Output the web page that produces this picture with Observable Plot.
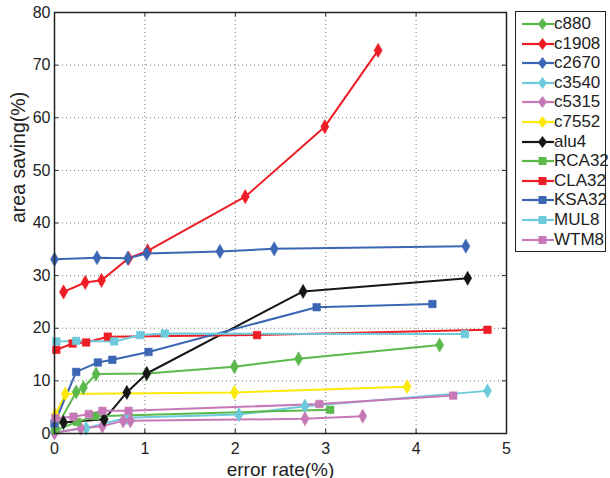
<!DOCTYPE html>
<html>
<head>
<meta charset="utf-8">
<script src="https://cdn.jsdelivr.net/npm/d3@7"></script>
<script src="https://cdn.jsdelivr.net/npm/@observablehq/plot@0.6"></script>
<style>
  body { margin: 0; background: #fff; font-family: "Liberation Sans", Arial, sans-serif; }
  #wrap { position: relative; width: 610px; height: 478px; }
  #legend { position: absolute; left: 515px; top: 11px; width: 91px; height: 241px; border: 1px solid #222; background: #fff; box-sizing: border-box; }
  .row { position: absolute; left: 0; height: 20px; width: 90px; }
  .row svg { position: absolute; left: 4px; top: 0; }
  .row span { position: absolute; left: 38px; top: 0px; font-size: 17px; line-height: 20px; color: #222; }
</style>
</head>
<body>
<div id="wrap"></div>
<script>
const seriesNames = ["c880","c1908","c2670","c3540","c5315","c7552","alu4","RCA32","CLA32","KSA32","MUL8","WTM8"];
const seriesColors = ["#5bb84b","#ee1d25","#3b66b4","#6ccadb","#c679b6","#fbe907","#161616","#5bb84b","#ee1d25","#3b66b4","#6ccadb","#c679b6"];
const seriesSymbols = ["diamond","diamond","diamond","diamond","diamond","diamond","diamond","square","square","square","square","square"];

const c880X = [0, 0.24, 0.32, 0.46, 1.02, 1.99, 2.70, 4.26];
const c880Y = [0.5, 7.9, 8.7, 11.3, 11.4, 12.7, 14.2, 16.8];
const c1908X = [0.10, 0.34, 0.52, 0.82, 1.03, 2.11, 2.99, 3.58];
const c1908Y = [26.9, 28.7, 29.1, 33.3, 34.7, 45.0, 58.3, 72.8];
const c2670X = [0, 0.47, 0.81, 1.02, 1.83, 2.43, 4.55];
const c2670Y = [33.1, 33.4, 33.3, 34.2, 34.6, 35.1, 35.6];
const c3540X = [0, 0.35, 0.80, 2.04, 2.77, 4.79];
const c3540Y = [0.3, 1.0, 3.0, 3.6, 5.2, 8.1];
const c5315X = [0, 0.29, 0.53, 0.76, 0.84, 2.77, 3.41];
const c5315Y = [0.1, 1.0, 1.4, 2.4, 2.4, 2.8, 3.3];
const c7552X = [0.01, 0.12, 1.99, 3.90];
const c7552Y = [3.5, 7.5, 7.8, 8.9];
const alu4X = [0.10, 0.55, 0.80, 1.02, 2.75, 4.57];
const alu4Y = [2.1, 2.7, 7.8, 11.4, 27.0, 29.5];
const RCA32X = [0.01, 0.25, 0.45, 3.05];
const RCA32Y = [0.6, 2.2, 3.3, 4.5];
const CLA32X = [0.02, 0.20, 0.35, 0.59, 2.24, 4.79];
const CLA32Y = [15.9, 17.1, 17.3, 18.4, 18.7, 19.7];
const KSA32X = [0, 0.24, 0.48, 0.64, 1.04, 2.90, 4.18];
const KSA32Y = [1.9, 11.7, 13.5, 14.0, 15.5, 24.0, 24.6];
const MUL8X = [0.02, 0.24, 0.66, 0.95, 1.22, 4.54];
const MUL8Y = [17.5, 17.6, 17.5, 18.7, 19.0, 18.9];
const WTM8X = [0.01, 0.21, 0.38, 0.53, 0.82, 2.93, 4.41];
const WTM8Y = [2.9, 3.2, 3.7, 4.3, 4.3, 5.6, 7.2];

const xTicks = [0, 1, 2, 3, 4, 5];
const yTicks = [0, 10, 20, 30, 40, 50, 60, 70, 80];

const seriesXs = [c880X, c1908X, c2670X, c3540X, c5315X, c7552X, alu4X, RCA32X, CLA32X, KSA32X, MUL8X, WTM8X];
const seriesYs = [c880Y, c1908Y, c2670Y, c3540Y, c5315Y, c7552Y, alu4Y, RCA32Y, CLA32Y, KSA32Y, MUL8Y, WTM8Y];

const data = [];
seriesNames.forEach((name, i) => {
  seriesXs[i].forEach((x, j) => data.push({series: name, x, y: seriesYs[i][j], order: i}));
});

const chart = Plot.plot({
  width: 610,
  height: 478,
  marginLeft: 54,
  marginRight: 104,
  marginTop: 12,
  marginBottom: 45,
  style: {fontFamily: "Liberation Sans, Arial, sans-serif", fontSize: "16px", color: "#222", background: "#fff"},
  x: {domain: [0, 5], ticks: xTicks, label: null},
  y: {domain: [0, 80], ticks: yTicks, label: null},
  color: {domain: seriesNames, range: seriesColors},
  symbol: {domain: seriesNames, range: seriesSymbols},
  marks: [
    Plot.gridX(xTicks, {stroke: "#777", strokeOpacity: 1, strokeDasharray: "1,3", strokeWidth: 1}),
    Plot.gridY(yTicks, {stroke: "#777", strokeOpacity: 1, strokeDasharray: "1,3", strokeWidth: 1}),
    Plot.ruleX(xTicks, {x: d => d, y1: 0, y2: 0.8, stroke: "#222"}),
    Plot.ruleX(xTicks, {x: d => d, y1: 79.2, y2: 80, stroke: "#222"}),
    Plot.ruleY(yTicks, {y: d => d, x1: 0, x2: 0.045, stroke: "#222"}),
    Plot.ruleY(yTicks, {y: d => d, x1: 4.955, x2: 5, stroke: "#222"}),
    Plot.line(data, {x: "x", y: "y", z: "series", stroke: "series", strokeWidth: 2}),
    Plot.dot(data, {x: "x", y: "y", symbol: "series", fill: "series", stroke: "series", strokeWidth: 0.5, r: 4.3}),
    Plot.frame({stroke: "#222", strokeWidth: 1.5}),
    Plot.axisX(xTicks, {tickSize: 0, tickPadding: 9, fontSize: 16, color: "#222"}),
    Plot.axisY(yTicks, {tickSize: 0, tickPadding: 4, fontSize: 16, color: "#222"}),
    Plot.text(["error rate(%)"], {x: 2.5, frameAnchor: "bottom", dy: 42, fontSize: 19, fill: "#222", lineAnchor: "bottom"}),
    Plot.text(["area saving(%)"], {y: 40, frameAnchor: "left", dx: -30, rotate: -90, fontSize: 19.5, fill: "#222", lineAnchor: "bottom"})
  ]
});

const wrap = document.getElementById("wrap");
wrap.appendChild(chart);

const legend = document.createElement("div");
legend.id = "legend";
seriesNames.forEach((name, i) => {
  const row = document.createElement("div");
  row.className = "row";
  row.style.top = (2 + i * 19.6) + "px";
  const color = seriesColors[i];
  const marker = seriesSymbols[i] === "diamond"
    ? `<path d="M22.5,4 L27,10 L22.5,16 L18,10 Z" fill="${color}"/>`
    : `<rect x="18.5" y="6" width="8" height="8" fill="${color}"/>`;
  row.innerHTML = `<svg width="34" height="20"><line x1="2" y1="10" x2="34" y2="10" stroke="${color}" stroke-width="2.2"/>${marker}</svg><span>${name}</span>`;
  legend.appendChild(row);
});
wrap.appendChild(legend);
</script>
</body>
</html>
